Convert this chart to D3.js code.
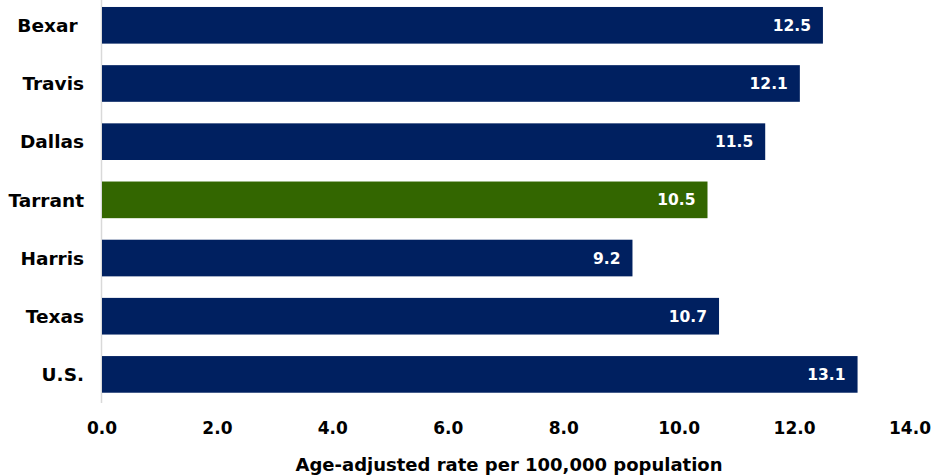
<!DOCTYPE html>
<html>
<head>
<meta charset="utf-8">
<script src="https://cdn.jsdelivr.net/npm/d3@7"></script>
<style>
  html, body { margin: 0; padding: 0; background: #fff; }
  svg { display: block; }
  text { font-family: "DejaVu Sans", Verdana, sans-serif; font-weight: bold; }
</style>
</head>
<body>
<svg id="chart" width="948" height="476"></svg>
<script>
// Age-adjusted rates by area
const categories = ["Bexar", "Travis", "Dallas", "Tarrant", "Harris", "Texas", "U.S."];
const values = [12.5, 12.1, 11.5, 10.5, 9.2, 10.7, 13.1];
const highlight = "Tarrant";
const xTicks = [0, 2, 4, 6, 8, 10, 12, 14];
const xTitle = "Age-adjusted rate per 100,000 population";

const data = categories.map((c, i) => ({ name: c, value: values[i] }));

const svg = d3.select("#chart");

const x = d3.scaleLinear().domain([0, 14]).range([101.5, 909.5]);
const y = d3.scaleBand().domain(categories).range([-3.5, 403.2])
  .paddingInner(0.37).paddingOuter(0.18);

// vertical axis line
svg.append("line")
  .attr("x1", x(0)).attr("x2", x(0))
  .attr("y1", 0).attr("y2", 403)
  .attr("stroke", "#d9d9d9").attr("stroke-width", 1.5);

// bars
svg.append("g").selectAll("rect").data(data).join("rect")
  .attr("x", x(0) + 0.5)
  .attr("y", d => y(d.name))
  .attr("width", d => x(d.value) - x(0) - 0.5)
  .attr("height", y.bandwidth())
  .attr("fill", d => d.name === highlight ? "#336600" : "#002060");

// value labels inside bars
svg.append("g").selectAll("text").data(data).join("text")
  .attr("x", d => x(d.value) - 12)
  .attr("y", d => y(d.name) + y.bandwidth() / 2)
  .attr("dy", "0.36em")
  .attr("text-anchor", "end")
  .attr("fill", "#fff")
  .attr("font-size", 15.5)
  .text(d => d.value.toFixed(1));

// category labels
svg.append("g").selectAll("text").data(data).join("text")
  .attr("x", 84)
  .attr("y", d => y(d.name) + y.bandwidth() / 2)
  .attr("dy", "0.36em")
  .attr("text-anchor", "end")
  .attr("fill", "#000")
  .attr("font-size", 18.5)
  .style("white-space", "pre")
  .text(d => d.name === "Bexar" ? d.name + " " : d.name);

// x axis tick labels
const xAxis = d3.axisBottom(x).tickValues(xTicks).tickSize(0).tickPadding(0)
  .tickFormat(d3.format(".1f"));
const gx = svg.append("g").attr("transform", "translate(0,422)").call(xAxis);
gx.select(".domain").remove();
gx.selectAll("text")
  .attr("font-size", 17)
  .attr("font-family", "DejaVu Sans, Verdana, sans-serif")
  .attr("font-weight", "bold")
  .attr("fill", "#000");

// x axis title
svg.append("text")
  .attr("x", 509)
  .attr("y", 471)
  .attr("text-anchor", "middle")
  .attr("font-size", 18)
  .attr("fill", "#000")
  .text(xTitle);
</script>
</body>
</html>
